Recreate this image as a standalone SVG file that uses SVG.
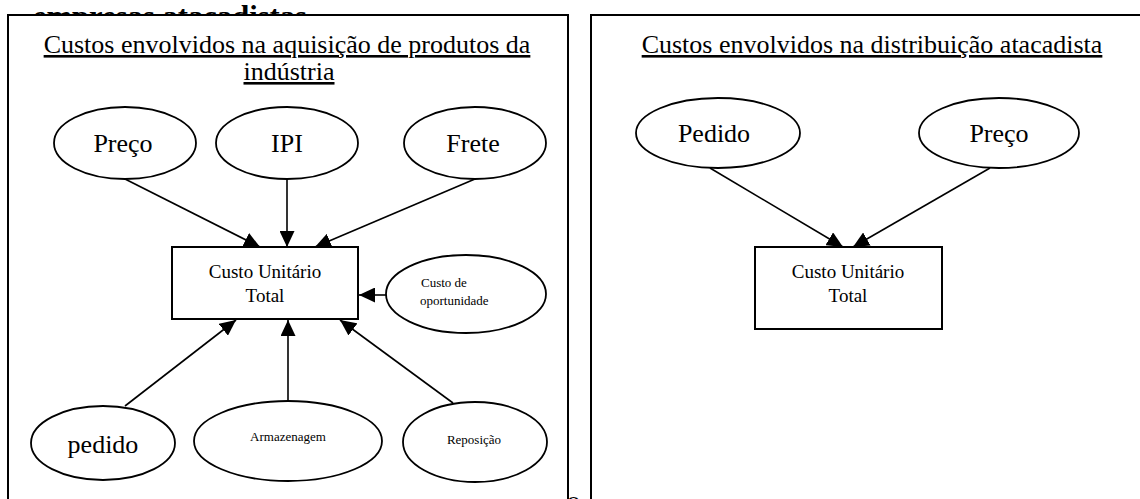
<svg xmlns="http://www.w3.org/2000/svg" width="1140" height="499" viewBox="0 0 1140 499" font-family="'Liberation Serif', 'Times New Roman', 'DejaVu Serif', serif">
<style>
text{font-family:'Liberation Serif','Times New Roman','DejaVu Serif',serif;fill:#000}
.t{font-size:26px;text-anchor:middle}
.m{font-size:19px;text-anchor:middle}
.s{font-size:13px}
.sc{font-size:13px;text-anchor:middle}
.panel{fill:#fff;stroke:#000;stroke-width:2}
.el{fill:#fff;stroke:#000;stroke-width:1.8}
.bx{fill:#fff;stroke:#000;stroke-width:2}
.c line{stroke:#000;stroke-width:1.6;marker-end:url(#ah)}
</style>
<defs>
<marker id="ah" markerUnits="userSpaceOnUse" markerWidth="17" markerHeight="15" refX="16" refY="7.5" orient="auto">
<path d="M0,0 L16,7.5 L0,15 Z" fill="#000"/>
</marker>
</defs>
<rect width="1140" height="499" fill="#fff"/>
<text x="33" y="26" font-family="'Liberation Serif', serif" style="font-size:30px;font-weight:bold;text-decoration:underline" textLength="274" lengthAdjust="spacingAndGlyphs">empresas atacadistas</text>
<text x="567" y="509" font-family="'Liberation Serif', serif" style="font-size:26px">o</text>
<g id="panel-left">
<rect class="panel" x="8" y="15" width="560" height="500"/>
<text class="t" x="287" y="53" font-family="'Liberation Serif', serif" text-decoration="underline">Custos envolvidos na aquisição de produtos da</text>
<text class="t" x="289" y="80" font-family="'Liberation Serif', serif" text-decoration="underline">indústria</text>
</g>
<g id="panel-right">
<rect class="panel" x="591" y="15" width="560" height="500"/>
<text class="t" x="872" y="53" font-family="'Liberation Serif', serif" text-decoration="underline">Custos envolvidos na distribuição atacadista</text>
</g>
<g id="n-preco">
<ellipse class="el" cx="125" cy="143" rx="71" ry="36"/>
<text class="t" x="123" y="152" font-family="'Liberation Serif', serif">Preço</text>
</g>
<g id="n-ipi">
<ellipse class="el" cx="287" cy="143" rx="71" ry="36"/>
<text class="t" x="287" y="152" font-family="'Liberation Serif', serif">IPI</text>
</g>
<g id="n-frete">
<ellipse class="el" cx="475" cy="143" rx="71" ry="36"/>
<text class="t" x="473" y="152" font-family="'Liberation Serif', serif">Frete</text>
</g>
<g id="n-custo-total-1">
<rect class="bx" x="172" y="247" width="186" height="72"/>
<text class="m" x="265" y="278" font-family="'Liberation Serif', serif">Custo Unitário</text>
<text class="m" x="265" y="302" font-family="'Liberation Serif', serif">Total</text>
</g>
<g id="n-oportunidade">
<ellipse class="el" cx="466" cy="294" rx="80" ry="39"/>
<text class="s" x="421" y="287" font-family="'Liberation Serif', serif">Custo de</text>
<text class="s" x="420" y="305" font-family="'Liberation Serif', serif">oportunidade</text>
</g>
<g id="n-pedido">
<ellipse class="el" cx="103" cy="443" rx="72" ry="37"/>
<text class="t" x="103" y="453" font-family="'Liberation Serif', serif">pedido</text>
</g>
<g id="n-armazenagem">
<ellipse class="el" cx="288" cy="441" rx="94" ry="40"/>
<text class="sc" x="288" y="441" font-family="'Liberation Serif', serif">Armazenagem</text>
</g>
<g id="n-reposicao">
<ellipse class="el" cx="475" cy="442" rx="72" ry="40"/>
<text class="sc" x="474" y="444" font-family="'Liberation Serif', serif">Reposição</text>
</g>
<g id="n-pedido-r">
<ellipse class="el" cx="718" cy="133" rx="82" ry="35"/>
<text class="t" x="714" y="142" font-family="'Liberation Serif', serif">Pedido</text>
</g>
<g id="n-preco-r">
<ellipse class="el" cx="999" cy="133" rx="80" ry="35"/>
<text class="t" x="999" y="142" font-family="'Liberation Serif', serif">Preço</text>
</g>
<g id="n-custo-total-2">
<rect class="bx" x="755" y="247" width="187" height="82"/>
<text class="m" x="848" y="278" font-family="'Liberation Serif', serif">Custo Unitário</text>
<text class="m" x="848" y="302" font-family="'Liberation Serif', serif">Total</text>
</g>
<g id="connectors" class="c">
<line x1="125" y1="179" x2="260" y2="247"/>
<line x1="287" y1="179" x2="287" y2="247"/>
<line x1="475" y1="179" x2="315" y2="247"/>
<line x1="386" y1="295" x2="359" y2="295"/>
<line x1="125" y1="406" x2="236" y2="320"/>
<line x1="288" y1="401" x2="288" y2="320"/>
<line x1="453" y1="403" x2="340" y2="320"/>
<line x1="710" y1="168" x2="843" y2="247"/>
<line x1="990" y1="168" x2="853" y2="247"/>
</g>
</svg>
